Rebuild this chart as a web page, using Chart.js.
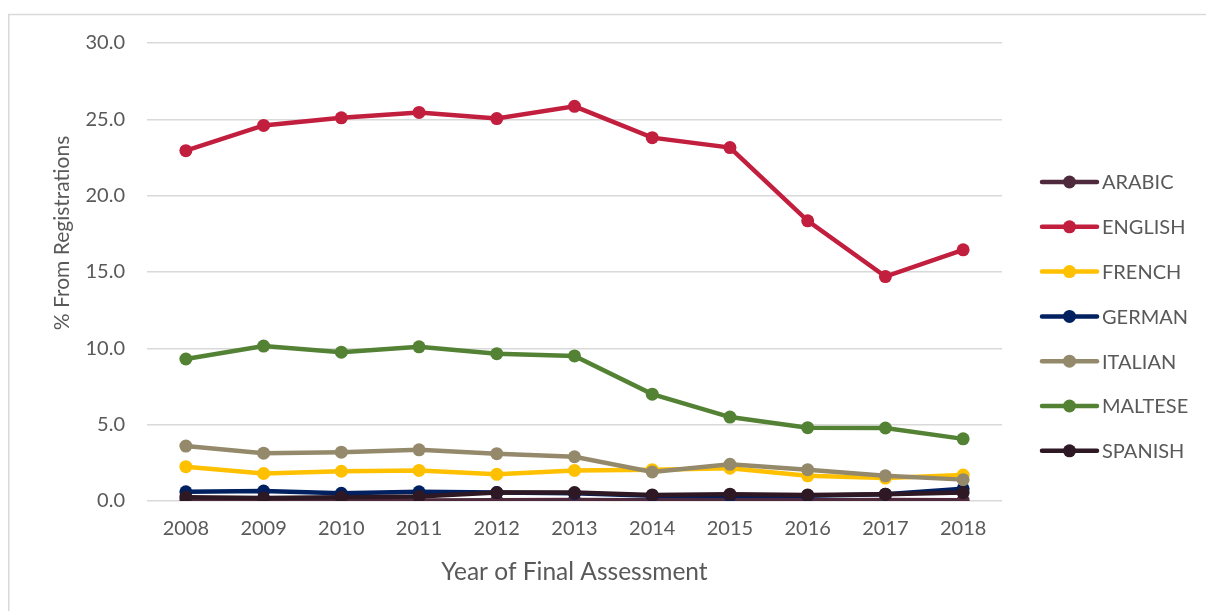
<!DOCTYPE html>
<html>
<head>
<meta charset="utf-8">
<script src="https://cdn.jsdelivr.net/npm/chart.js@4/dist/chart.umd.min.js"></script>
<style>
  html, body { margin: 0; padding: 0; background: #ffffff; }
  #wrap { position: relative; width: 1206px; height: 611px; }
</style>
</head>
<body>
<div id="wrap"><canvas id="c" width="1206" height="611"></canvas></div>
<script>
const years = ['2008','2009','2010','2011','2012','2013','2014','2015','2016','2017','2018'];
const yTicks = [0, 5, 10, 15, 20, 25, 30];
const xTitle = 'Year of Final Assessment';
const yTitle = '% From Registrations';

const arabic  = [0.02, 0.03, 0.05, 0.04, 0.05, 0.06, 0.05, 0.10, 0.05, 0.06, 0.05];
const english = [22.95, 24.6, 25.1, 25.45, 25.05, 25.85, 23.8, 23.15, 18.35, 14.7, 16.45];
const french  = [2.25, 1.8, 1.95, 2.0, 1.75, 2.0, 2.05, 2.15, 1.65, 1.5, 1.7];
const german  = [0.6, 0.65, 0.5, 0.6, 0.55, 0.5, 0.35, 0.35, 0.35, 0.45, 0.8];
const italian = [3.6, 3.13, 3.2, 3.35, 3.1, 2.9, 1.9, 2.4, 2.05, 1.65, 1.4];
const maltese = [9.3, 10.15, 9.75, 10.1, 9.65, 9.5, 7.0, 5.5, 4.8, 4.78, 4.07];
const spanish = [0.25, 0.2, 0.25, 0.3, 0.55, 0.55, 0.4, 0.45, 0.4, 0.45, 0.55];

const seriesNames = ['ARABIC','ENGLISH','FRENCH','GERMAN','ITALIAN','MALTESE','SPANISH'];
const seriesData = [arabic, english, french, german, italian, maltese, spanish];
const seriesColors = ['#4E2A3C','#C21E3E','#FFC000','#002060','#948A6B','#548235','#2D1824'];

const FONT = 'Lato, Carlito, "Open Sans", sans-serif';
const TEXT = '#595959';

const datasets = seriesNames.map((n, i) => ({
  label: n,
  data: seriesData[i],
  borderColor: seriesColors[i],
  backgroundColor: seriesColors[i],
  pointBackgroundColor: seriesColors[i],
  pointBorderColor: seriesColors[i],
  borderWidth: 4.5,
  pointRadius: 6.5,
  pointHoverRadius: 6.5,
  pointBorderWidth: 0,
  tension: 0,
  order: seriesNames.length - i
}));

const framePlugin = {
  id: 'frame',
  beforeDraw(chart) {
    const ctx = chart.ctx;
    ctx.save();
    ctx.strokeStyle = '#D9D9D9';
    ctx.lineWidth = 1.5;
    ctx.beginPath();
    ctx.moveTo(8.75, 611);
    ctx.lineTo(8.75, 14.5);
    ctx.lineTo(1206, 14.5);
    ctx.stroke();
    ctx.restore();
  }
};

const yTitlePlugin = {
  id: 'yTitle',
  afterDraw(chart) {
    const ctx = chart.ctx;
    ctx.save();
    ctx.translate(62, 233);
    ctx.rotate(-Math.PI / 2);
    ctx.fillStyle = TEXT;
    ctx.font = '21px ' + FONT;
    ctx.textAlign = 'center';
    ctx.textBaseline = 'middle';
    ctx.fillText(yTitle, 0, 0);
    ctx.restore();
  }
};

const legendPlugin = {
  id: 'sideLegend',
  afterDraw(chart) {
    const ctx = chart.ctx;
    ctx.save();
    const x0 = 1042, x1 = 1097, top = 182, step = 44.8;
    chart.data.datasets.forEach((ds, i) => {
      const y = top + i * step;
      ctx.strokeStyle = ds.borderColor;
      ctx.lineWidth = 4.5;
      ctx.lineCap = 'round';
      ctx.beginPath();
      ctx.moveTo(x0, y);
      ctx.lineTo(x1, y);
      ctx.stroke();
      ctx.fillStyle = ds.borderColor;
      ctx.beginPath();
      ctx.arc((x0 + x1) / 2, y, 6.5, 0, Math.PI * 2);
      ctx.fill();
      ctx.fillStyle = TEXT;
      ctx.font = '20px ' + FONT;
      ctx.textAlign = 'left';
      ctx.textBaseline = 'middle';
      ctx.fillText(ds.label, x1 + 5, y + 1);
    });
    ctx.restore();
  }
};

new Chart(document.getElementById('c'), {
  type: 'line',
  data: { labels: years, datasets },
  options: {
    responsive: false,
    animation: false,
    events: [],
    layout: { padding: { left: 9, right: 204, top: 43, bottom: 0 } },
    plugins: {
      legend: { display: false },
      tooltip: { enabled: false }
    },
    scales: {
      x: {
        type: 'category',
        offset: true,
        grid: { display: false, drawTicks: false },
        border: { display: false },
        ticks: { color: TEXT, font: { family: FONT, size: 20 }, padding: 16, maxRotation: 0, autoSkip: false },
        title: { display: true, text: xTitle, color: TEXT,
                 font: { family: FONT, size: 24.5 }, padding: { top: 0, bottom: 24 } },
        afterFit(axis) { axis.height = 110; }
      },
      y: {
        min: 0, max: 30,
        afterBuildTicks(axis) { axis.ticks = yTicks.map(v => ({ value: v })); },
        grid: { color: '#D9D9D9', lineWidth: 1.5, drawTicks: false },
        border: { display: false },
        ticks: { color: TEXT, font: { family: FONT, size: 20 }, padding: 22,
                 callback: v => Number(v).toFixed(1) },
        title: { display: false },
        afterFit(axis) { axis.width = 138; }
      }
    }
  },
  plugins: [framePlugin, yTitlePlugin, legendPlugin]
});
</script>
</body>
</html>
